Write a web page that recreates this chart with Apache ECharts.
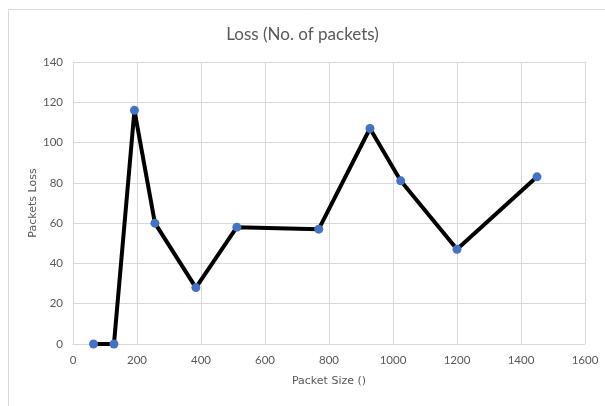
<!DOCTYPE html>
<html>
<head>
<meta charset="utf-8">
<script src="https://cdn.jsdelivr.net/npm/echarts@6/dist/echarts.min.js"></script>
<style>
html,body{margin:0;padding:0;background:#fff;}
#chart{width:605px;height:406px;}
</style>
</head>
<body>
<div id="chart"></div>
<script>
var packetSizes = [64, 128, 192, 256, 384, 512, 768, 928, 1024, 1200, 1450];
var packetLoss = [0, 0, 116, 60, 28, 58, 57, 107, 81, 47, 83];
var titleText = 'Loss (No. of packets)';
var xAxisName = 'Packet Size ()';
var yAxisName = 'Packets Loss';

var chart = echarts.init(document.getElementById('chart'));
var font = 'Lato, "Open Sans", sans-serif';
var wideFont = '"DejaVu Sans", sans-serif';
chart.setOption({
  animation: false,
  backgroundColor: '#fff',
  title: {
    text: titleText,
    left: 'center',
    top: 21,
    textStyle: {fontFamily: font, fontSize: 17, fontWeight: 'normal', color: '#595959'}
  },
  graphic: [{
    type: 'rect',
    shape: {x: 8.5, y: 9.5, width: 620, height: 420},
    style: {fill: 'none', stroke: '#d9d9d9', lineWidth: 1},
    silent: true
  }],
  grid: {left: 73, top: 62, right: 20, bottom: 62},
  xAxis: {
    type: 'value',
    min: 0, max: 1600, interval: 200,
    name: xAxisName,
    nameLocation: 'middle',
    nameGap: 32,
    nameMoveOverlap: false,
    nameTextStyle: {fontFamily: wideFont, fontSize: 11, color: '#595959'},
    axisLine: {show: true, lineStyle: {color: '#d9d9d9'}},
    axisTick: {show: false},
    axisLabel: {fontFamily: font, fontSize: 11.5, color: '#595959', margin: 10,
      formatter: function (v) { return String(v); }},
    splitLine: {show: true, lineStyle: {color: '#d9d9d9', width: 1}}
  },
  yAxis: {
    type: 'value',
    min: 0, max: 140, interval: 20,
    name: yAxisName,
    nameLocation: 'middle',
    nameGap: 34,
    nameMoveOverlap: false,
    nameRotate: 90,
    nameTextStyle: {fontFamily: wideFont, fontSize: 11, color: '#595959'},
    axisLine: {show: false},
    axisTick: {show: false},
    axisLabel: {fontFamily: font, fontSize: 11.5, color: '#595959', margin: 10},
    splitLine: {show: true, lineStyle: {color: '#d9d9d9', width: 1}}
  },
  series: [{
    type: 'line',
    data: packetSizes.map(function (x, i) { return [x, packetLoss[i]]; }),
    symbol: 'circle',
    symbolSize: 9,
    lineStyle: {color: '#000', width: 4},
    itemStyle: {color: '#4472C4'},
    z: 3
  }]
});
</script>
</body>
</html>
